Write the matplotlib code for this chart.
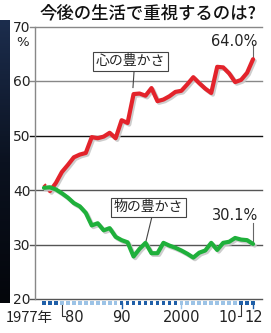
import matplotlib
matplotlib.use('Agg')
import matplotlib.pyplot as plt
import matplotlib.patheffects as pe
import numpy as np
from matplotlib.transforms import blended_transform_factory
from matplotlib.colors import LinearSegmentedColormap

# ---- data ----
years = list(range(1977, 2013))
heart = [41.0, 39.8, 41.3, 43.3, 44.6, 46.0, 46.5, 46.8, 49.7, 49.5,
         49.8, 50.5, 49.5, 52.8, 52.3, 57.6, 57.7, 57.3, 58.7, 56.3,
         56.6, 57.2, 58.0, 58.2, 59.4, 60.7, 59.6, 58.6, 57.8, 62.6,
         62.5, 61.4, 59.8, 60.2, 61.5, 64.0]
goods = [40.4, 40.5, 40.1, 39.4, 38.6, 37.6, 37.0, 35.8, 33.5, 33.9,
         32.6, 33.0, 31.4, 30.8, 30.4, 27.8, 29.2, 30.3, 28.4, 28.4,
         30.3, 29.8, 29.4, 28.9, 28.3, 27.6, 28.5, 28.9, 30.3, 29.0,
         30.3, 30.5, 31.2, 30.9, 30.8, 30.1]
yticks = [20, 30, 40, 50, 60, 70]
dark_decades = [(1977, 1979), (1990, 1999), (2010, 2012)]
title = '今後の生活で重視するのは?'
label_heart = '心の豊かさ'
label_goods = '物の豊かさ'

JP = ['Noto Sans CJK JP', 'DejaVu Sans']
NUM = ['DejaVu Sans']

W, H = 271, 333
fig = plt.figure(figsize=(W / 100, H / 100), dpi=100)
fig.patch.set_facecolor('white')

# dark photo strip on the left edge
bg = fig.add_axes([0, 30 / H, 10 / W, 1 - 50 / H], zorder=-5)
grad = np.linspace(0, 1, 100).reshape(-1, 1)
cm = LinearSegmentedColormap.from_list('s', ['#04060b', '#0b1220', '#1c2d4d'])
bg.imshow(grad, aspect='auto', cmap=cm, origin='lower', extent=[0, 1, 0, 1])
bg.axis('off')

ax = fig.add_axes([35 / W, 34 / H, 227 / W, 272.5 / H])
ax.set_xlim(1975.5, 2013.5)
ax.set_ylim(20, 70)
ax.patch.set_alpha(0)
for s in ['top', 'right', 'bottom']:
    ax.spines[s].set_visible(False)
ax.spines['left'].set_color('#888888')
ax.spines['left'].set_linewidth(1.0)

# grid lines
grid_colors = {20: '#555555', 30: '#555555', 40: '#555555', 50: '#111111', 60: '#888888', 70: '#888888'}
trans_g = blended_transform_factory(ax.transAxes, ax.transData)
for v in yticks:
    ax.plot([-5 / 227, 1.0], [v, v], color=grid_colors[v], lw=1.0, transform=trans_g,
            clip_on=False, zorder=1)

ax.set_yticks(yticks)
ax.set_yticklabels(['20', '30', '40', '50', '60', '70'])
ax.tick_params(axis='y', length=0, pad=3, labelsize=10, labelcolor='#222222')
for t in ax.get_yticklabels():
    t.set_family(NUM)
ax.text(-0.055, 67.0, '%', transform=trans_g, ha='center', va='center',
        fontsize=9.5, color='#222222', family=NUM)
ax.set_xticks([])

shadow = [pe.SimpleLineShadow(offset=(1.2, -1.2), shadow_color='#c8c8c8', alpha=0.9),
          pe.Normal()]
red = '#e3232b'
green = '#1fb03b'
ax.plot(years[:2], heart[:2], color=red, lw=2.6, ls=(0, (0.6, 1.2)),
        solid_capstyle='round', zorder=3)
ax.plot(years[1:], heart[1:], color=red, lw=3.0, solid_joinstyle='round',
        solid_capstyle='round', path_effects=shadow, zorder=4)
ax.plot(years, goods, color=green, lw=3.0, solid_joinstyle='round',
        solid_capstyle='round', path_effects=shadow, zorder=4)

# annotations
box = dict(boxstyle='square,pad=0.2', fc='white', ec='#444444', lw=0.8)
ax.plot([1992.1, 1991.9], [62.1, 58.8], color='#444444', lw=0.8, zorder=2)
ax.text(1991.5, 63.6, label_heart, ha='center', va='center', fontsize=10,
        family=JP, bbox=box, color='#222222', zorder=5)
ax.plot([1995.1, 1994.1], [35.2, 30.7], color='#444444', lw=0.8, zorder=2)
ax.text(1994.5, 36.8, label_goods, ha='center', va='center', fontsize=10,
        family=JP, bbox=box, color='#222222', zorder=5)

ax.plot([2012, 2012], [66.4, 64.3], color='#666666', lw=0.8, zorder=2)
ax.text(2008.8, 67.3, f'{heart[-1]:.1f}%', ha='center', va='center', fontsize=10.5,
        family=NUM, color='#222222')
ax.plot([2012, 2012], [34.0, 30.6], color='#666666', lw=0.8, zorder=2)
ax.text(2009.0, 35.4, f'{goods[-1]:.1f}%', ha='center', va='center', fontsize=10.5,
        family=NUM, color='#222222')

# year squares below axis
trans_x = blended_transform_factory(ax.transData, ax.transAxes)
sq_y = -4 / 272.5
cols = []
for y in years:
    dark = any(a <= y <= b for a, b in dark_decades)
    cols.append('#1f5fa8' if dark else '#9cc3e6')
ax.scatter(years, [sq_y] * len(years), marker='s', s=7, c=cols, transform=trans_x,
           clip_on=False, zorder=5, linewidths=0)

tick_col = '#1f5fa8'
for y in [1990, 2000, 2012]:
    ax.plot([y, y], [sq_y, -9 / 272.5], color=tick_col if y != 2000 else '#9cc3e6',
            lw=1.0, transform=trans_x, clip_on=False)
# corner brackets for 80 and 10
ax.plot([1980, 1980, 1980.6], [sq_y, -17 / 272.5, -17 / 272.5], color='#333333', lw=0.8,
        transform=trans_x, clip_on=False)
ax.plot([2010, 2010, 2009.4], [sq_y, -17 / 272.5, -17 / 272.5], color='#333333', lw=0.8,
        transform=trans_x, clip_on=False)

lab_y = -19 / 272.5
ax.text(1978.5, lab_y, '1977年', transform=trans_x, ha='right', va='center',
        fontsize=10.5, family=JP, color='#222222')
ax.text(1980.6, lab_y, '80', transform=trans_x, ha='left', va='center',
        fontsize=10.5, family=NUM, color='#222222')
ax.text(1990, lab_y, '90', transform=trans_x, ha='center', va='center',
        fontsize=10.5, family=NUM, color='#222222')
ax.text(2000, lab_y, '2000', transform=trans_x, ha='center', va='center',
        fontsize=10.5, family=NUM, color='#222222')
ax.text(2009.4, lab_y, '10', transform=trans_x, ha='right', va='center',
        fontsize=10.5, family=NUM, color='#222222')
ax.text(2012.2, lab_y, '12', transform=trans_x, ha='center', va='center',
        fontsize=10.5, family=NUM, color='#222222')

fig.text(148 / W, 1 - 13 / H, title, ha='center', va='center', fontsize=12.5,
         family=JP, fontweight='medium', color='#111111')

fig.savefig('out.png', dpi=100, facecolor='white')
